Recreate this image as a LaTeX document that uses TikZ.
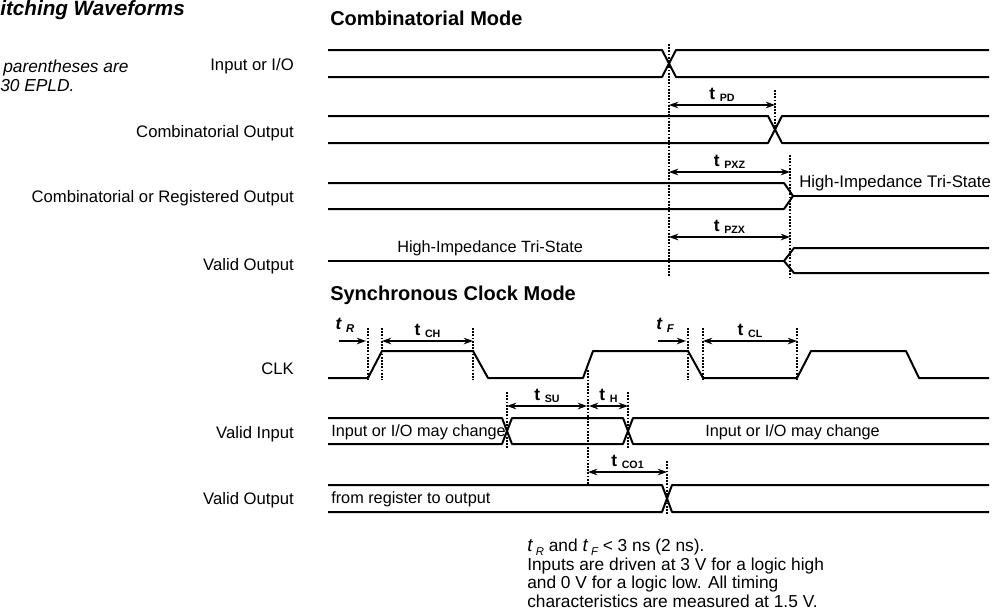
\documentclass[tikz,border=0pt]{standalone}
\usepackage{fontspec}
\setmainfont{Liberation Sans}
\usetikzlibrary{arrows.meta}

% timing labels: large t with a small suffix
\newcommand{\tdim}[1]{{\fontsize{13}{13}\selectfont\bfseries t}\hspace{3.5pt}\raisebox{-0.25ex}{\fontsize{8}{8}\selectfont\bfseries #1}}
\newcommand{\tedge}[1]{{\fontsize{13}{13}\selectfont\bfseries\itshape t}\hspace{3.5pt}\raisebox{-0.35ex}{\fontsize{8.5}{8.5}\selectfont\bfseries\itshape #1}}

\begin{document}
\begin{tikzpicture}[x=0.75pt,y=-0.75pt,
    sig/.style={line width=1.5pt,line join=round},
    guide/.style={line width=1.3pt,dash pattern=on 1.3pt off 1.1pt},
    dim/.style={line width=1pt,{Stealth[length=7pt,width=5pt]}-{Stealth[length=7pt,width=5pt]}},
    dimr/.style={line width=1pt,-{Stealth[length=7pt,width=5pt]}},
    lbl/.style={anchor=east,inner sep=0pt,font=\fontsize{12.5}{15}\selectfont},
    txt/.style={anchor=west,inner sep=0pt,font=\fontsize{12.2}{14}\selectfont},
    head/.style={anchor=west,inner sep=0pt,font=\fontsize{15}{17}\selectfont\bfseries}]
    \useasboundingbox (0,0) rectangle (996,614);
    \clip (0,0) rectangle (996,614);

    % caption at the left
    \node[anchor=base west,inner sep=0pt,font=\fontsize{15.5}{17}\selectfont\bfseries\itshape] (title) at (0,15) {itching Waveforms};
    \node[anchor=west,inner sep=0pt,font=\fontsize{13}{15}\selectfont\itshape] (remA) at (3,68) {parentheses are};
    \node[anchor=west,inner sep=0pt,font=\fontsize{13}{15}\selectfont\itshape] (remB) at (0,86) {30 EPLD.};

    % signal names
    \node[lbl] (nIn) at (294,66) {Input or I/O};
    \node[lbl] (nCo) at (294,133) {Combinatorial Output};
    \node[lbl] (nCr) at (294,198) {Combinatorial or Registered Output};
    \node[lbl] (nVo) at (294,266) {Valid Output};
    \node[lbl] (nClk) at (294,369) {CLK};
    \node[lbl] (nVi) at (294,434) {Valid Input};
    \node[lbl] (nVs) at (294,500) {Valid Output};

    \node[head] (hComb) at (330,18) {Combinatorial Mode};
    \node[head] (hSync) at (330,295) {Synchronous Clock Mode};

    %% combinatorial mode
    \draw[sig] (328,50) -- (662,50) -- (676,77) -- (989,77);
    \draw[sig] (328,77) -- (662,77) -- (676,50) -- (989,50);

    \draw[sig] (328,116) -- (768,116) -- (782,143) -- (989,143);
    \draw[sig] (328,143) -- (768,143) -- (782,116) -- (989,116);

    \draw[sig] (328,183) -- (784,183) -- (793,196) -- (784,209) -- (328,209);
    \draw[sig] (793,196) -- (989,196);
    \node[txt,font=\fontsize{12.6}{14}\selectfont] (hz1) at (799,183) {High-Impedance Tri-State};

    \draw[sig] (328,261) -- (784,261);
    \draw[sig] (989,248) -- (794,248) -- (784,261) -- (794,273) -- (989,273);
    \node[txt] (hz2) at (397,248) {High-Impedance Tri-State};

    \draw[guide] (669,44) -- (669,277);
    \draw[guide] (775,90) -- (775,130);
    \draw[guide] (790,155) -- (790,277);

    \draw[dim] (669,105) -- (775,105) node[midway,above=1pt,inner sep=1pt] (tpd) {\tdim{PD}};
    \draw[dim] (669,172) -- (790,172) node[midway,above=1pt,inner sep=1pt] (tpxz) {\tdim{PXZ}};
    \draw[dim] (669,237) -- (790,237) node[midway,above=1pt,inner sep=1pt] (tpzx) {\tdim{PZX}};

    %% synchronous clock mode
    \draw[sig] (328,378) -- (368,378) -- (382,351) -- (473,351) -- (488,378) -- (583,378)
        -- (593,351) -- (688,351) -- (703,378) -- (797,378) -- (811,351) -- (906,351)
        -- (919,378) -- (989,378);
    \foreach \gx in {368,382,473,688,703,797}
        \draw[guide] (\gx,328) -- (\gx,380);

    \draw[dimr] (339,341) -- (366,341);
    \node[anchor=south,inner sep=1pt] (tr) at (345,334) {\tedge{R}};
    \draw[dim] (382,341) -- (473,341) node[midway,above=1pt,inner sep=1pt] (tch) {\tdim{CH}};
    \draw[dimr] (658,341) -- (686,341);
    \node[anchor=south,inner sep=1pt] (tf) at (665,334) {\tedge{F}};
    \draw[dim] (703,341) -- (797,341) node[midway,above=1pt,inner sep=1pt] (tcl) {\tdim{CL}};

    \draw[sig] (328,418) -- (502,418) -- (512,444) -- (623,444) -- (633,418) -- (989,418);
    \draw[sig] (328,444) -- (502,444) -- (512,418) -- (623,418) -- (633,444) -- (989,444);
    \node[txt] (chg1) at (331,432) {Input or I/O may change};
    \node[txt] (chg2) at (705,432) {Input or I/O may change};

    \draw[guide] (507,392) -- (507,448);
    \draw[guide] (628,392) -- (628,448);
    \draw[guide] (588,370) -- (588,484);

    \draw[dim] (507,406) -- (587,406) node[midway,above=1pt,inner sep=1pt] (tsu) {\tdim{SU}};
    \draw[dim] (589,406) -- (628,406) node[midway,above=1pt,inner sep=1pt] (th) {\tdim{H}};

    \draw[sig] (328,485) -- (662,485) -- (672,512) -- (989,512);
    \draw[sig] (328,512) -- (662,512) -- (672,485) -- (989,485);
    \node[txt] (reg) at (331,499) {from register to output};

    \draw[guide] (667,461) -- (667,515);
    \draw[dim] (588,472) -- (667,472) node[midway,above=1pt,inner sep=1pt] (tco) {\tdim{CO1}};

    % note under the waveforms
    \node[anchor=north west,inner sep=0pt,align=left,font=\fontsize{13}{13.9}\selectfont] (note) at (527,539)
        {{\fontsize{14}{14}\selectfont\itshape t}\hspace{2.5pt}\raisebox{-0.4ex}{\fontsize{8.5}{8.5}\selectfont\itshape R} and {\fontsize{14}{14}\selectfont\itshape t}\hspace{2.5pt}\raisebox{-0.4ex}{\fontsize{8.5}{8.5}\selectfont\itshape F} < 3 ns (2 ns).\\
         Inputs are driven at 3 V for a logic high\\
         and 0 V for a logic low. All timing\\
         characteristics are measured at 1.5 V.};
\end{tikzpicture}
\end{document}
